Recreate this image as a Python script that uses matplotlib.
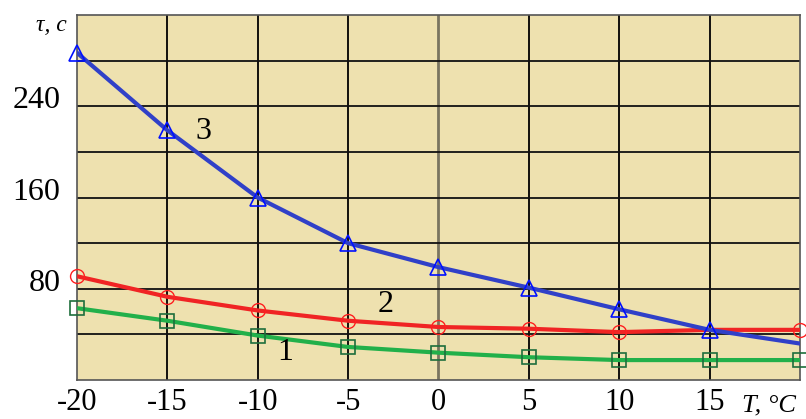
import matplotlib
matplotlib.use("Agg")
from matplotlib import pyplot as plt
import matplotlib.transforms as mtransforms

# temperature, deg C
temps = [-20, -15, -10, -5, 0, 5, 10, 15, 20]

# curve 1 (green squares)
tau_1 = [63, 52, 39, 29, 24, 20, 17.5, 17.5, 17.5]
# curve 2 (red circles), no marker at 15
tau_2 = [91, 73, 61, 52, 46.5, 45, 42, 44, 44]
# curve 3 (blue triangles), no marker at 20
tau_3 = [287, 219, 160, 120, 99, 81, 62, 44, 32]

x_ticks = [-20, -15, -10, -5, 0, 5, 10, 15]
y_grid = [0, 40, 80, 120, 160, 200, 240, 280, 320]
y_labels = [80, 160, 240]

curve_names = ["1", "2", "3"]

plt.rcParams['font.family'] = ['Liberation Serif', 'DejaVu Serif']

fig = plt.figure(figsize=(8.06, 4.19), dpi=100)
ax = fig.add_axes([0.0955, 0.093, 0.897, 0.871])
ax.set_facecolor('#EEE1AF')

ax.plot(temps, tau_1, color='#22B04A', lw=3, zorder=3)
ax.plot(temps, tau_1, ls='none', marker='s', ms=10, mfc='none',
        mec='#1E6E3C', mew=1.2, clip_on=False, zorder=4)

ax.plot(temps, tau_2, color='#F02424', lw=3, zorder=3)
red_marks = [0, 1, 2, 3, 4, 5, 6, 8]
ax.plot([temps[i] for i in red_marks], [tau_2[i] for i in red_marks],
        ls='none', marker='o', ms=10, mfc='none', mec='#FF2020', mew=1.0,
        clip_on=False, zorder=4)

ax.plot(temps, tau_3, color='#3040C8', lw=3, zorder=3)
ax.plot(temps[:-1], tau_3[:-1], ls='none', marker='^', ms=11, mfc='none',
        mec='#0010FF', mew=1.2, clip_on=False, zorder=4)

ax.set_xlim(-20, 20)
ax.set_ylim(0, 320)

# grid
for xv in x_ticks[1:]:
    ax.axvline(xv, color='#7A7560' if xv == 0 else 'black',
               lw=2.0 if xv == 0 else 1.3, zorder=1)
for yv in y_grid[1:-1]:
    ax.axhline(yv, color='#111111', lw=1.3, zorder=1)

ax.set_xticks(x_ticks)
ax.set_xticklabels([str(v) for v in x_ticks], fontsize=22)
ax.set_yticks(y_labels)
ax.set_yticklabels([str(v) for v in y_labels], fontsize=23)
ax.tick_params(axis='x', length=0, pad=6)
ax.tick_params(axis='y', length=0, pad=12)

shift = mtransforms.ScaledTranslation(0, 0.09, fig.dpi_scale_trans)
for lab in ax.get_yticklabels():
    lab.set_transform(lab.get_transform() + shift)

for sp in ax.spines.values():
    sp.set_color('#555555')
    sp.set_linewidth(1.2)

# curve numbers
ax.text(-13.0, 218, curve_names[2], fontsize=23, ha='center', va='center')
ax.text(-2.9, 66, curve_names[1], fontsize=23, ha='center', va='center')
ax.text(-8.5, 24, curve_names[0], fontsize=23, ha='center', va='center')

# axis titles
fig.text(0.045, 0.94, "τ, c", fontsize=17, style='italic', ha='left', va='center')
fig.text(0.921, 0.032, "T, °C", fontsize=19, style='italic', ha='left', va='center')

plt.savefig("out.png", dpi=100)
